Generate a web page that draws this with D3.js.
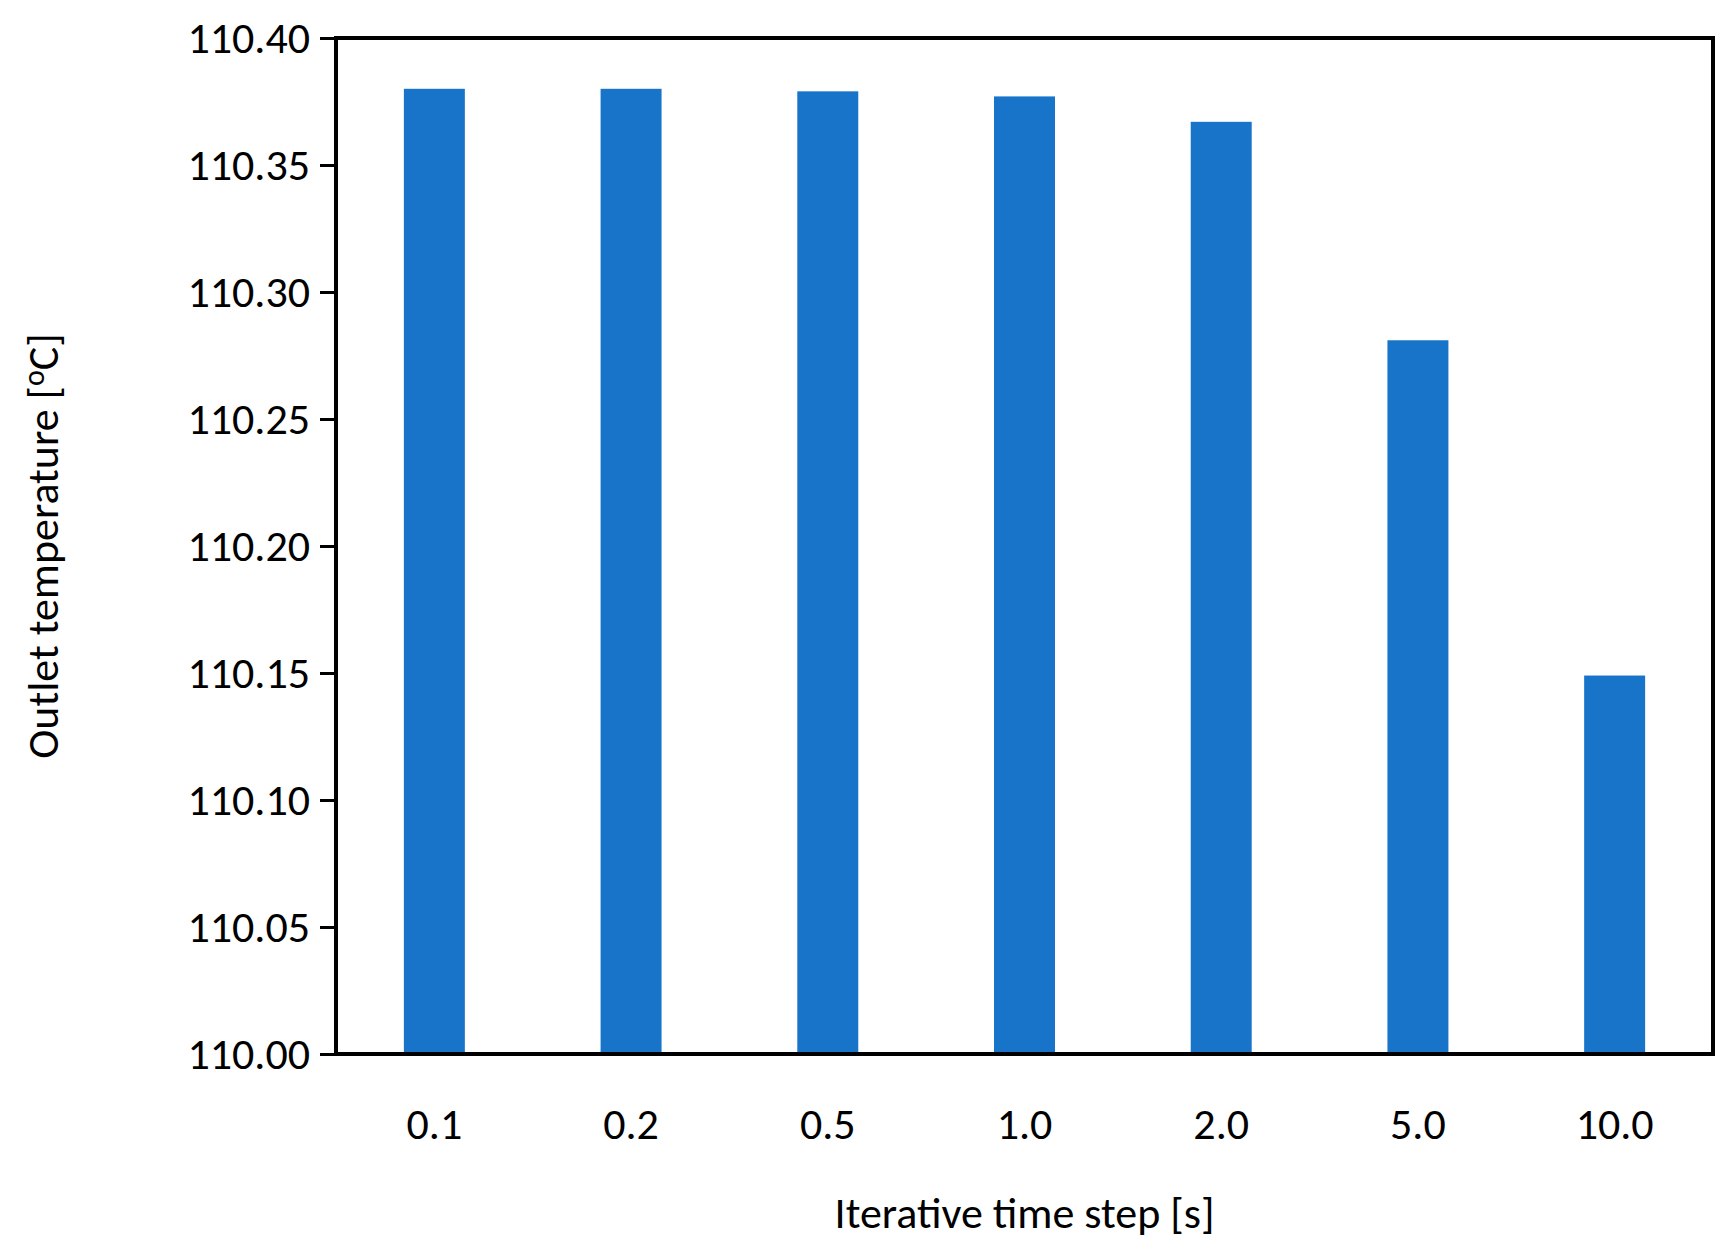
<!DOCTYPE html>
<html><head><meta charset="utf-8">
<script src="https://cdn.jsdelivr.net/npm/d3@7"></script>
<style>body{margin:0;background:#fff}text{font-family:Calibri,Carlito,"Open Sans",sans-serif}</style>
</head><body>
<script>
const steps = ['0.1', '0.2', '0.5', '1.0', '2.0', '5.0', '10.0']
const temps = [110.380, 110.380, 110.379, 110.377, 110.367, 110.281, 110.149]
const yTicks = [110.00, 110.05, 110.10, 110.15, 110.20, 110.25, 110.30, 110.35, 110.40]

const W = 1729, H = 1249
const m = { left: 336, top: 38, right: 16, bottom: 195 }
const svg = d3.select('body').append('svg').attr('width', W).attr('height', H)
const x = d3.scaleBand().domain(steps).range([m.left, W - m.right]).paddingInner(0.69).paddingOuter(0.345)
const y = d3.scaleLinear().domain([110, 110.4]).range([H - m.bottom, m.top])

svg.selectAll('rect.bar').data(temps).join('rect')
  .attr('class', 'bar')
  .attr('x', (d, i) => x(steps[i]))
  .attr('width', x.bandwidth())
  .attr('y', d => y(d))
  .attr('height', d => y(110) - y(d))
  .attr('fill', '#1874c9')

svg.append('rect').attr('x', m.left).attr('y', m.top)
  .attr('width', W - m.right - m.left).attr('height', H - m.bottom - m.top)
  .attr('fill', 'none').attr('stroke', '#000').attr('stroke-width', 4)

const yAxis = svg.append('g').attr('transform', `translate(${m.left},0)`)
  .call(d3.axisLeft(y).tickValues(yTicks).tickFormat(d3.format('.2f')).tickSize(16).tickPadding(10))
yAxis.select('.domain').remove()
yAxis.selectAll('line').attr('stroke-width', 3)
yAxis.selectAll('text').attr('font-size', 44).attr('fill', '#000')

const xAxis = svg.append('g').attr('transform', `translate(0,${H - m.bottom})`)
  .call(d3.axisBottom(x).tickSize(0).tickPadding(54))
xAxis.select('.domain').remove()
xAxis.selectAll('text').attr('font-size', 44).attr('fill', '#000')

svg.append('text').attr('x', (m.left + W - m.right) / 2).attr('y', 1228)
  .attr('text-anchor', 'middle').attr('font-size', 44).text('Iterative time step [s]')

const yl = svg.append('text').attr('transform', `translate(58,${(m.top + H - m.bottom) / 2}) rotate(-90)`)
  .attr('text-anchor', 'middle').attr('font-size', 44)
yl.append('tspan').text('Outlet temperature  [')
yl.append('tspan').attr('font-size', 30).attr('dy', -14).text('o')
yl.append('tspan').attr('dy', 14).text('C]')
</script>
</body></html>
